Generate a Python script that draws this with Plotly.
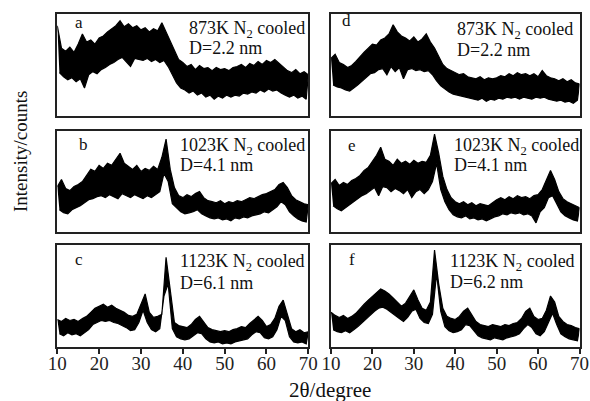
import plotly.graph_objects as go

# sampling grid of the patterns (degrees 2-theta)
deg_int = [10, 11, 12, 13, 14, 15, 16, 17, 18, 19,
           20, 21, 22, 23, 24, 25, 26, 27, 28, 29,
           30, 31, 32, 33, 34, 35, 36, 37, 38, 39,
           40, 41, 42, 43, 44, 45, 46, 47, 48, 49,
           50, 51, 52, 53, 54, 55, 56, 57, 58, 59,
           60, 61, 62, 63, 64, 65, 66, 67, 68, 69,
           70]
deg_half = [10.5, 11.5, 12.5, 13.5, 14.5, 15.5, 16.5, 17.5, 18.5, 19.5,
            20.5, 21.5, 22.5, 23.5, 24.5, 25.5, 26.5, 27.5, 28.5, 29.5,
            30.5, 31.5, 32.5, 33.5, 34.5, 35.5, 36.5, 37.5, 38.5, 39.5,
            40.5, 41.5, 42.5, 43.5, 44.5, 45.5, 46.5, 47.5, 48.5, 49.5,
            50.5, 51.5, 52.5, 53.5, 54.5, 55.5, 56.5, 57.5, 58.5, 59.5,
            60.5, 61.5, 62.5, 63.5, 64.5, 65.5, 66.5, 67.5, 68.5, 69.5]

# noisy patterns: upper noise edge at integer degrees, lower edge at half degrees (a.u.)
a_top = [88, 66, 63, 67, 62, 70, 80, 72, 74, 70,
         76, 78, 82, 85, 88, 93, 87, 90, 86, 88,
         84, 86, 82, 85, 83, 91, 82, 73, 64, 55,
         52, 48, 50, 45, 49, 46, 47, 44, 47, 45,
         46, 44, 47, 48, 50, 47, 51, 49, 53, 50,
         54, 52, 55, 51, 48, 44, 42, 45, 41, 43,
         40]
a_bot = [42, 38, 35, 37, 33, 36, 27, 40, 43, 41,
         45, 47, 50, 52, 55, 57, 53, 48, 56, 55,
         54, 56, 53, 55, 52, 54, 48, 40, 32, 27,
         25, 22, 24, 20, 22, 18, 20, 16, 19, 17,
         20, 18, 20, 19, 22, 21, 23, 22, 25, 23,
         26, 24, 25, 22, 20, 18, 20, 17, 19, 16]

b_top = [45, 52, 43, 41, 45, 47, 50, 56, 62, 60,
         66, 63, 68, 66, 72, 78, 68, 65, 62, 66,
         60, 63, 61, 65, 62, 74, 92, 62, 44, 36,
         34, 37, 35, 38, 40, 34, 31, 30, 29, 31,
         28, 30, 29, 31, 30, 32, 34, 33, 35, 37,
         38, 40, 42, 47, 49, 44, 36, 32, 30, 28,
         27]
b_bot = [22, 19, 18, 22, 24, 26, 29, 32, 33, 35,
         36, 34, 37, 35, 33, 38, 36, 34, 37, 35,
         33, 36, 34, 37, 40, 58, 50, 28, 24, 20,
         18, 19, 20, 22, 18, 16, 14, 13, 14, 12,
         13, 11, 14, 13, 15, 14, 16, 17, 18, 20,
         19, 22, 25, 30, 27, 20, 16, 13, 11, 10]

c_top = [27, 25, 28, 26, 27, 25, 28, 30, 34, 38,
         40, 42, 39, 41, 38, 36, 34, 31, 30, 32,
         42, 52, 34, 29, 30, 32, 88, 55, 24, 21,
         20, 19, 22, 27, 30, 25, 19, 17, 16, 15,
         16, 15, 17, 18, 20, 19, 23, 27, 30, 26,
         20, 22, 28, 40, 46, 32, 18, 15, 17, 14,
         15]
c_bot = [13, 11, 14, 12, 13, 11, 14, 17, 22, 24,
         26, 25, 26, 24, 23, 21, 19, 16, 17, 24,
         36, 24, 17, 15, 18, 50, 62, 18, 10, 8,
         7, 8, 11, 14, 13, 8, 5, 4, 5, 3,
         4, 3, 5, 6, 7, 8, 12, 15, 14, 9,
         8, 10, 17, 30, 26, 10, 5, 4, 5, 3]

d_top = [56, 60, 52, 50, 47, 49, 53, 58, 62, 66,
         70, 69, 74, 76, 80, 89, 82, 78, 76, 73,
         77, 72, 75, 80, 72, 66, 58, 50, 46, 44,
         42, 40, 41, 38, 37, 36, 38, 35, 37, 36,
         37, 39, 38, 41, 39, 42, 40, 41, 39, 41,
         38, 44, 39, 37, 36, 34, 36, 33, 35, 32,
         31]
d_bot = [30, 28, 27, 25, 24, 27, 30, 34, 37, 41,
         42, 45, 46, 40, 48, 43, 47, 36, 45, 46,
         44, 45, 43, 44, 40, 34, 29, 26, 23, 21,
         20, 19, 18, 17, 16, 15, 17, 14, 16, 15,
         17, 16, 18, 17, 18, 16, 18, 17, 16, 18,
         17, 18, 16, 15, 14, 15, 13, 14, 12, 15]

e_top = [48, 52, 46, 49, 47, 51, 53, 56, 61, 64,
         70, 76, 84, 72, 70, 66, 72, 68, 70, 67,
         71, 68, 70, 69, 76, 97, 78, 55, 42, 34,
         30, 28, 30, 27, 29, 26, 28, 27, 26, 29,
         32, 34, 32, 35, 33, 36, 34, 35, 33, 36,
         37, 42, 52, 61, 52, 40, 33, 30, 28, 26,
         24]
e_bot = [26, 23, 21, 24, 27, 30, 33, 36, 38, 41,
         44, 36, 45, 44, 40, 43, 41, 38, 42, 34,
         40, 42, 38, 42, 50, 68, 42, 30, 22, 17,
         15, 14, 16, 13, 14, 12, 13, 11, 13, 15,
         16, 18, 17, 19, 18, 19, 17, 18, 16, 9,
         20, 24, 34, 36, 28, 20, 16, 14, 12, 11]

f_top = [34, 31, 29, 31, 28, 30, 33, 38, 42, 46,
         50, 54, 57, 55, 52, 48, 44, 40, 43, 50,
         56, 46, 38, 36, 44, 95, 62, 38, 30, 28,
         27, 30, 35, 38, 32, 25, 22, 21, 20, 22,
         21, 20, 22, 21, 23, 24, 28, 35, 38, 30,
         27, 28, 36, 50, 44, 30, 25, 22, 21, 19,
         18]
f_bot = [17, 15, 14, 16, 14, 17, 20, 24, 28, 31,
         35, 38, 39, 37, 34, 31, 28, 25, 29, 35,
         37, 28, 24, 23, 32, 72, 35, 20, 16, 14,
         15, 17, 22, 21, 16, 11, 9, 8, 7, 9,
         8, 7, 9, 10, 11, 13, 18, 22, 19, 13,
         11, 15, 24, 33, 22, 13, 10, 8, 7, 6]

panel_letters = ["a", "b", "c", "d", "e", "f"]
temperatures = ["873K", "1023K", "1123K", "873K", "1023K", "1123K"]
grain_sizes = ["2.2", "4.1", "6.1", "2.2", "4.1", "6.2"]
x_ticks = [10, 20, 30, 40, 50, 60, 70]

tops = [a_top, b_top, c_top, d_top, e_top, f_top]
bots = [a_bot, b_bot, c_bot, d_bot, e_bot, f_bot]

W, H = 590, 401
SERIF = "Liberation Serif"


def px(x):
    return x / W


def py(y):
    return 1 - y / H


# panel frames in pixels: (left, right), (top, bottom)
cols = [(57.3, 308.3), (331, 579.5)]
rows = [(13.5, 115.5), (131, 232), (245, 347)]

# text positions per panel: letter (x, y), text left x, line1 y, line2 y
text_pos = [
    ((79, 22), 187, 29, 48.5),
    ((83, 144), 178, 146, 165),
    ((79, 259), 178, 262.5, 282.5),
    ((346, 21), 455, 31, 49.5),
    ((352, 145), 452, 146, 165),
    ((352, 259), 448, 262.5, 282),
]

fig = go.Figure()
layout = dict(
    template="none",
    width=W, height=H,
    margin=dict(l=0, r=0, t=0, b=0, autoexpand=False),
    paper_bgcolor="white", plot_bgcolor="white",
    showlegend=False,
    font=dict(family=SERIF, color="#111"),
)
annotations = []

for i in range(6):
    col, row = i // 3, i % 3
    n = i + 1
    xa = "x" if n == 1 else "x%d" % n
    ya = "y" if n == 1 else "y%d" % n

    assert len(tops[i]) == len(deg_int) and len(bots[i]) == len(deg_half)
    # noise band: upper edge left to right, lower edge back
    fig.add_trace(go.Scatter(
        x=deg_int + deg_half[::-1], y=tops[i] + bots[i][::-1],
        mode="lines", fill="toself", fillcolor="black",
        line=dict(color="black", width=1.2),
        xaxis=xa, yaxis=ya, hoverinfo="skip"))

    bottom_row = row == 2
    layout["xaxis" if n == 1 else "xaxis%d" % n] = dict(
        domain=[px(cols[col][0]), px(cols[col][1])],
        anchor=ya, range=[10, 70], automargin=False,
        showline=True, mirror=True, linecolor="#222", linewidth=1.5,
        showgrid=False, zeroline=False,
        tickvals=x_ticks,
        ticks="outside" if bottom_row else "",
        ticklen=5, tickwidth=1.5, tickcolor="#222",
        ticklabelstandoff=-7,
        showticklabels=bottom_row,
        tickfont=dict(family=SERIF, size=19, color="#222"),
    )
    layout["yaxis" if n == 1 else "yaxis%d" % n] = dict(
        domain=[py(rows[row][1]), py(rows[row][0])],
        anchor=xa, range=[0, 100], automargin=False,
        showline=True, mirror=True, linecolor="#222", linewidth=1.5,
        showgrid=False, zeroline=False, ticks="", showticklabels=False,
    )

    (lx, ly), tx, t1, t2 = text_pos[i]
    annotations.append(dict(
        x=px(lx), y=py(ly), xref="paper", yref="paper", showarrow=False,
        text=panel_letters[i], font=dict(family=SERIF, size=17, color="#111"),
        xanchor="center", yanchor="middle"))
    annotations.append(dict(
        x=px(tx), y=py(t1), xref="paper", yref="paper", showarrow=False,
        text=temperatures[i] + " N<sub>2</sub> cooled",
        font=dict(family=SERIF, size=18, color="#111"),
        xanchor="left", yanchor="middle"))
    annotations.append(dict(
        x=px(tx), y=py(t2), xref="paper", yref="paper", showarrow=False,
        text="D=" + grain_sizes[i] + " nm",
        font=dict(family=SERIF, size=18, color="#111"),
        xanchor="left", yanchor="middle"))

annotations.append(dict(
    x=px(330), y=py(390), xref="paper", yref="paper", showarrow=False,
    text="2θ/degree", font=dict(family=SERIF, size=21, color="#111"),
    xanchor="center", yanchor="middle"))
annotations.append(dict(
    x=px(21), y=py(152), xref="paper", yref="paper", showarrow=False,
    text="Intensity/counts", textangle=-90,
    font=dict(family=SERIF, size=19, color="#111"),
    xanchor="center", yanchor="middle"))

layout["annotations"] = annotations
fig.update_layout(**layout)
# page body has a default margin; drop it so the figure sits at the corner
fig.write_html("out.html", config={"displayModeBar": False},
               post_script="document.body.style.margin='0px';")
